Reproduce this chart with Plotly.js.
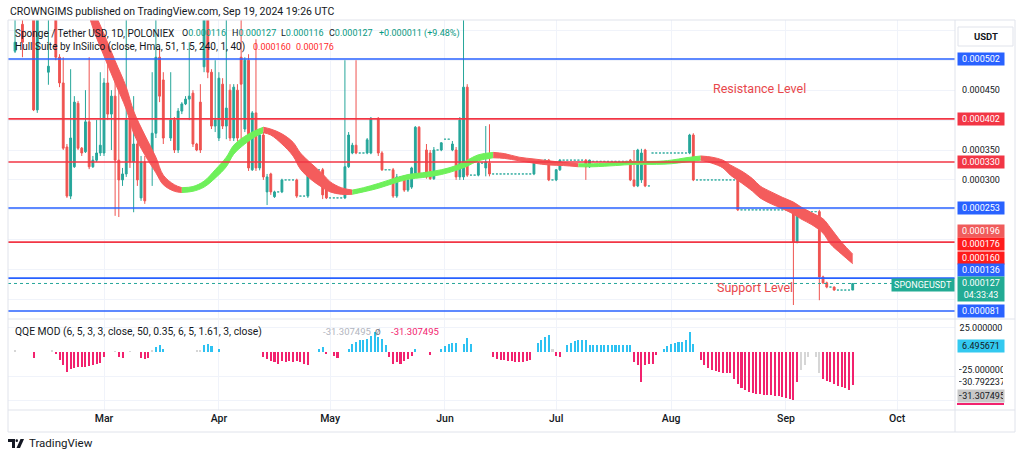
<!DOCTYPE html>
<html><head><meta charset="utf-8">
<script src="https://cdn.plot.ly/plotly-3.0.1.min.js"></script>
<style>html,body{margin:0;padding:0;background:#fff;}#chart{width:1024px;height:458px;}</style>
</head><body><div id="chart"></div>
<script>
// ---- DATA (prices in millionths of USDT) ----
const SCALE = 1e-6;
const candleDates = ['2024-02-06','2024-02-08','2024-02-11','2024-02-12','2024-02-15','2024-02-17','2024-02-18','2024-02-19','2024-02-20','2024-02-21','2024-02-22','2024-02-23','2024-02-24','2024-02-25','2024-02-26','2024-02-27','2024-02-28','2024-02-29','2024-03-01','2024-03-02','2024-03-03','2024-03-04','2024-03-05','2024-03-06','2024-03-07','2024-03-08','2024-03-09','2024-03-10','2024-03-11','2024-03-12','2024-03-14','2024-03-15','2024-03-16','2024-03-17','2024-03-19','2024-03-20','2024-03-21','2024-03-22','2024-03-23','2024-03-24','2024-03-25','2024-03-26','2024-03-27','2024-03-28','2024-03-29','2024-03-30','2024-03-31','2024-04-01','2024-04-02','2024-04-03','2024-04-04','2024-04-05','2024-04-06','2024-04-07','2024-04-08','2024-04-09','2024-04-10','2024-04-11','2024-04-12','2024-04-13','2024-04-14','2024-04-15','2024-04-16','2024-04-18','2024-04-22','2024-04-25','2024-04-29','2024-04-30','2024-05-05','2024-05-06','2024-05-07','2024-05-08','2024-05-11','2024-05-12','2024-05-14','2024-05-15','2024-05-18','2024-05-19','2024-05-21','2024-05-22','2024-05-23','2024-05-24','2024-05-25','2024-05-27','2024-05-28','2024-05-29','2024-05-31','2024-06-03','2024-06-04','2024-06-05','2024-06-06','2024-06-07','2024-06-10','2024-06-12','2024-06-13','2024-06-25','2024-06-28','2024-06-29','2024-07-01','2024-07-02','2024-07-09','2024-07-10','2024-07-21','2024-07-22','2024-07-23','2024-07-24','2024-07-25','2024-08-06','2024-08-07','2024-08-19','2024-09-03','2024-09-04','2024-09-10','2024-09-11','2024-09-12','2024-09-14','2024-09-19'];
const candleOpen  = [515,560,620,417,480,600,505,462,355,273,322,428,353,347,397,322,333,345,345,462,410,440,333,300,310,400,330,360,270,330,328,378,505,467,370,400,350,415,427,435,445,360,430,489,600,480,390,370,460,390,450,370,450,505,385,500,317,412,320,375,280,310,272,280,300,273,317,285,270,322,345,358,345,345,403,345,317,273,305,283,288,308,388,350,345,302,350,350,350,305,305,455,308,320,328,310,330,333,300,317,333,322,333,300,290,300,350,345,375,300,250,196,247,138,128,121,116];
const candleHigh  = [620,620,640,650,600,630,510,505,360,485,440,432,355,450,505,340,400,480,470,500,450,470,470,320,570,420,440,380,340,340,480,620,520,480,480,405,420,430,440,530,450,362,460,640,640,485,500,480,470,620,460,460,460,620,505,510,415,535,380,380,310,312,282,302,302,320,320,290,500,380,362,500,370,405,405,348,320,310,308,302,322,390,390,360,350,355,363,365,355,405,650,460,330,390,393,330,335,335,318,335,335,334,335,350,352,352,352,377,378,302,252,250,250,140,130,122,127];
const candleLow   = [512,505,415,412,459,500,455,350,270,268,320,350,340,345,318,320,330,340,340,400,350,240,238,290,305,320,246,290,265,260,290,370,430,360,365,345,345,410,425,400,355,348,345,480,470,385,380,365,385,368,365,365,365,368,380,315,315,315,316,300,258,275,270,278,270,270,268,268,268,320,343,343,343,343,340,315,270,270,280,280,285,305,305,302,300,300,348,348,300,300,300,305,306,306,306,308,328,298,298,315,300,320,298,288,288,295,288,343,298,248,91,194,99,126,119,115,116];
const candleClose = [530,530,417,620,490,505,462,353,273,370,430,353,345,397,322,333,345,358,462,410,440,333,300,310,400,330,360,300,330,265,378,505,440,370,400,350,415,427,435,440,360,350,350,600,480,390,400,470,390,420,370,455,370,460,500,320,412,320,375,305,305,280,280,300,273,317,275,270,322,375,358,345,367,403,345,317,273,305,283,300,320,388,308,305,302,350,362,360,305,400,455,308,328,330,310,328,333,300,317,333,322,333,300,290,350,345,290,375,300,250,196,247,138,128,121,116,127];
// flat (no-range) sessions
const flatDates = ['2024-04-17','2024-04-19','2024-04-20','2024-04-21','2024-04-23','2024-04-24','2024-04-26','2024-04-27','2024-04-28','2024-05-01','2024-05-02','2024-05-03','2024-05-04','2024-05-09','2024-05-10','2024-05-16','2024-05-17','2024-05-20','2024-05-26','2024-05-30','2024-06-01','2024-06-02','2024-06-08','2024-06-09','2024-06-11','2024-06-14','2024-06-15','2024-06-16','2024-06-17','2024-06-18','2024-06-19','2024-06-20','2024-06-21','2024-06-22','2024-06-23','2024-06-24','2024-06-26','2024-06-27','2024-06-30','2024-07-03','2024-07-04','2024-07-05','2024-07-06','2024-07-07','2024-07-08','2024-07-11','2024-07-12','2024-07-13','2024-07-14','2024-07-15','2024-07-16','2024-07-17','2024-07-18','2024-07-19','2024-07-20','2024-07-26','2024-07-27','2024-07-28','2024-07-29','2024-07-30','2024-07-31','2024-08-01','2024-08-02','2024-08-03','2024-08-04','2024-08-05','2024-08-08','2024-08-09','2024-08-10','2024-08-11','2024-08-12','2024-08-13','2024-08-14','2024-08-15','2024-08-16','2024-08-17','2024-08-18','2024-08-20','2024-08-21','2024-08-22','2024-08-23','2024-08-24','2024-08-25','2024-08-26','2024-08-27','2024-08-28','2024-08-29','2024-08-30','2024-08-31','2024-09-01','2024-09-02','2024-09-05','2024-09-06','2024-09-07','2024-09-08','2024-09-09','2024-09-13','2024-09-15','2024-09-16','2024-09-17','2024-09-18'];
const flatPrice = [280,300,300,300,273,273,317,317,317,270,270,270,270,345,345,317,317,305,308,350,368,368,308,308,328,310,310,310,310,310,310,310,310,310,310,310,328,328,300,333,333,333,333,333,333,331,331,331,331,331,331,331,331,331,331,290,345,345,345,345,345,345,345,345,345,345,300,300,300,300,300,300,300,300,300,300,300,250,250,250,250,250,250,250,250,250,250,250,250,250,250,247,247,247,247,247,121,116,116,116,116];
// Hull Suite band (upper / lower edge) and trend
const hullDates = ['2024-02-25','2024-02-27','2024-03-01','2024-03-04','2024-03-07','2024-03-09','2024-03-12','2024-03-15','2024-03-17','2024-03-20','2024-03-22','2024-03-25','2024-03-28','2024-03-31','2024-04-03','2024-04-05','2024-04-08','2024-04-11','2024-04-13','2024-04-15','2024-04-18','2024-04-21','2024-04-23','2024-04-26','2024-04-29','2024-05-01','2024-05-04','2024-05-07','2024-05-10','2024-05-14','2024-05-18','2024-05-22','2024-05-26','2024-05-31','2024-06-04','2024-06-07','2024-06-10','2024-06-14','2024-06-17','2024-06-21','2024-06-25','2024-06-29','2024-07-03','2024-07-07','2024-07-11','2024-07-17','2024-07-22','2024-07-28','2024-08-01','2024-08-05','2024-08-09','2024-08-12','2024-08-15','2024-08-17','2024-08-20','2024-08-23','2024-08-25','2024-08-28','2024-08-31','2024-09-03','2024-09-05','2024-09-08','2024-09-11','2024-09-13','2024-09-16','2024-09-19'];
const hullUpper = [622,587,544,499,455,415,375,338,308,292,287,289,298,317,338,358,373,383,388,385,377,363,345,327,310,297,287,283,287,294,302,309,312,317,324,333,342,346,344,338,335,332,329,327,327,329,331,331,333,337,340,338,333,325,315,302,290,280,271,263,255,245,235,220,196,176];
const hullLower = [596,554,507,462,418,378,342,312,292,281,279,281,288,303,322,343,360,373,379,375,360,340,318,300,287,280,276,276,280,286,294,301,304,309,316,323,332,337,336,332,328,325,324,322,322,324,326,326,327,330,333,328,320,308,295,281,270,260,252,243,235,225,211,193,176,160];
const hullTrend = ['dn','dn','dn','dn','dn','dn','dn','dn','dn','dn','up','up','up','up','up','up','up','up','dn','dn','dn','dn','dn','dn','dn','dn','dn','up','up','up','up','up','up','up','up','up','up','dn','dn','dn','dn','dn','dn','up','up','up','up','up','up','up','dn','dn','dn','dn','dn','dn','dn','dn','dn','dn','dn','dn','dn','dn','dn','dn'];
// horizontal levels
const blueLevels = [502,253,136,81];
const redLevels = [402,330,196];
const lastPrice = 127;
// QQE MOD histogram
const qqeDates = ['2024-02-06','2024-02-11','2024-02-16','2024-02-17','2024-02-18','2024-02-19','2024-02-20','2024-02-21','2024-02-22','2024-02-23','2024-02-24','2024-02-25','2024-02-26','2024-02-27','2024-02-28','2024-02-29','2024-03-01','2024-03-04','2024-03-05','2024-03-06','2024-03-08','2024-03-11','2024-03-12','2024-03-13','2024-03-14','2024-03-15','2024-03-16','2024-03-17','2024-03-26','2024-03-27','2024-03-28','2024-03-29','2024-03-30','2024-04-01',
'2024-04-13','2024-04-14','2024-04-15','2024-04-16','2024-04-17','2024-04-18','2024-04-19','2024-04-20','2024-04-21','2024-04-22','2024-04-23','2024-04-24','2024-04-25','2024-04-28','2024-04-29','2024-04-30','2024-05-02','2024-05-03',
'2024-05-06','2024-05-07','2024-05-08','2024-05-09','2024-05-10','2024-05-11','2024-05-12','2024-05-13','2024-05-14','2024-05-15','2024-05-16','2024-05-17','2024-05-18','2024-05-19','2024-05-20','2024-05-21','2024-05-22','2024-05-23','2024-05-24','2024-05-28',
'2024-05-31','2024-06-01','2024-06-02','2024-06-03','2024-06-04','2024-06-06','2024-06-07','2024-06-08',
'2024-06-14','2024-06-15','2024-06-16','2024-06-17','2024-06-18','2024-06-19','2024-06-20','2024-06-21','2024-06-22','2024-06-23','2024-06-24','2024-06-26','2024-06-27','2024-06-28','2024-06-29','2024-06-30','2024-07-01','2024-07-02',
'2024-07-04','2024-07-05','2024-07-06','2024-07-07','2024-07-08','2024-07-09','2024-07-10','2024-07-11','2024-07-12','2024-07-13','2024-07-14','2024-07-15','2024-07-16','2024-07-17','2024-07-18','2024-07-19','2024-07-20','2024-07-21',
'2024-07-22','2024-07-23','2024-07-24','2024-07-25','2024-07-26','2024-07-27','2024-07-28','2024-07-30','2024-07-31','2024-08-01','2024-08-02','2024-08-03','2024-08-04','2024-08-05','2024-08-06','2024-08-07',
'2024-08-09','2024-08-10','2024-08-11','2024-08-12','2024-08-13','2024-08-14','2024-08-15','2024-08-16','2024-08-17','2024-08-18','2024-08-19','2024-08-20','2024-08-21','2024-08-22','2024-08-23','2024-08-24','2024-08-25','2024-08-26','2024-08-27','2024-08-28','2024-08-29','2024-08-30','2024-08-31','2024-09-01','2024-09-02','2024-09-03','2024-09-04',
'2024-09-05','2024-09-06','2024-09-07','2024-09-09','2024-09-10','2024-09-11','2024-09-12','2024-09-13','2024-09-14','2024-09-15','2024-09-16','2024-09-17','2024-09-18','2024-09-19'];
const qqeValues = [2,-6,2,-2,-8.7,-14,-21,-18,-17,-16,-15.6,-15.6,-15,-14,-12,-11.5,-5,1.5,-5,-6,1.5,-6,-7,-6,2,5,7,3,2,2,7,8,6,3,
-5,-7,-9,-10,-12,-9,-10,-9,-10,-9,-10,-12,-14,3,5,-2,-4,-6,
3,8,10,12,13,14,17,21,16,14,7,-5,-12,-10,-12,-9,-7,-4,3,-3,
3,6,8,9,9,8,15,8,
-5,-7,-8,-8,-9,-9,-10,-10,-10,-9,-8,9,13,16,18,3,-4,-5,
7,9.4,11.5,12.8,13,12.8,7,7,7,7,7,7,7,7,7,7,7,7,
-10.4,-14,-31,-14,-13,-13,-3.5,3,6,8,9,10,10,13,21,8,
-8.7,-13.9,-16.3,-19.1,-20.1,-20.8,-21.5,-21.9,-22.2,-27.8,-33,-37.2,-39.9,-41.7,-42.7,-43.4,-44.1,-44.4,-44.8,-45.1,-45.5,-46.2,-46.9,-47.6,-48.6,-50.3,-31.3,
-19,-14,-5,-5,-22,-28,-30,-31,-33,-35,-36,-38,-40,-34];
const qqeState = ['nt','dn','nt','dn','dn','dn','dn','dn','dn','dn','dn','dn','dn','dn','dn','dn','dn','nt','dn','dn','nt','dn','dn','dn','nt','up','up','up','nt','nt','up','up','up','up',
'dn','dn','dn','dn','dn','dn','dn','dn','dn','dn','dn','dn','dn','up','up','dn','dn','dn',
'up','up','up','up','up','up','up','up','up','up','up','dn','dn','dn','dn','dn','dn','dn','up','dn',
'up','up','up','up','up','up','up','up',
'dn','dn','dn','dn','dn','dn','dn','dn','dn','dn','dn','up','up','up','up','nt','dn','dn',
'up','up','up','up','up','up','up','up','up','up','up','up','up','up','up','up','up','up',
'dn','dn','dn','dn','dn','dn','dn','up','up','up','up','up','up','up','up','up',
'dn','dn','dn','dn','dn','dn','dn','dn','dn','dn','dn','dn','dn','dn','dn','dn','dn','dn','dn','dn','dn','dn','dn','dn','dn','dn','dn',
'nt','nt','nt','nt','nt','dn','dn','dn','dn','dn','dn','dn','dn','dn'];
const monthTicks = ['2024-03-01','2024-04-01','2024-05-01','2024-06-01','2024-07-01','2024-08-01','2024-09-01','2024-10-01'];
const monthLabels = ['Mar','Apr','May','Jun','Jul','Aug','Sep','Oct'];

// ---- STYLE ----
const UP = '#26a69a', DN = '#ef5350', BLUE = '#2962ff', LRED = '#f23645';
const FONT = 'Roboto, "Open Sans", Arial, sans-serif';
const PX = p => (p - 8) / 947;      // pixel -> paper x
const PY = p => (410 - p) / 390;    // pixel -> paper y
const S = v => v * SCALE;

const traces = [];
traces.push({type:'candlestick', x:candleDates, open:candleOpen.map(S), high:candleHigh.map(S), low:candleLow.map(S), close:candleClose.map(S),
  increasing:{line:{color:UP,width:1},fillcolor:UP}, decreasing:{line:{color:DN,width:1},fillcolor:DN},
  whiskerwidth:0, hoverinfo:'skip', xaxis:'x', yaxis:'y', showlegend:false});
traces.push({type:'candlestick', x:flatDates, open:flatPrice.map(S), high:flatPrice.map(S), low:flatPrice.map(S), close:flatPrice.map(S),
  increasing:{line:{color:'#4fb8ad',width:1},fillcolor:'#4fb8ad'}, decreasing:{line:{color:'#4fb8ad',width:1},fillcolor:'#4fb8ad'},
  whiskerwidth:0, hoverinfo:'skip', xaxis:'x', yaxis:'y', showlegend:false});

// hull band segments
const segs = []; let st = 0;
for (let i = 1; i < hullDates.length; i++) {
  if (hullTrend[i] !== hullTrend[st]) { segs.push([st, i, hullTrend[st]]); st = i; }
}
if (st < hullDates.length - 1) segs.push([st, hullDates.length - 1, hullTrend[st]]);
segs.forEach(([a, b, t]) => {
  const col = t === 'up' ? '#6ef05a' : '#f45c5c';
  const xs = hullDates.slice(a, b + 1);
  traces.push({type:'scatter', mode:'lines', x:xs, y:hullLower.slice(a, b + 1).map(S), line:{color:col,width:1,shape:'spline'}, hoverinfo:'skip', showlegend:false, xaxis:'x', yaxis:'y'});
  traces.push({type:'scatter', mode:'lines', x:xs, y:hullUpper.slice(a, b + 1).map(S), line:{color:col,width:1,shape:'spline'}, fill:'tonexty', fillcolor:col, hoverinfo:'skip', showlegend:false, xaxis:'x', yaxis:'y'});
});

// QQE histogram
const qcol = {up:'#2ec2f2', dn:'#f2226e', nt:'#d6d6d6'};
traces.push({type:'bar', x:qqeDates, y:qqeValues, marker:{color:qqeState.map(s => qcol[s]), line:{width:0}}, width:0.55*86400000, hoverinfo:'skip', showlegend:false, xaxis:'x', yaxis:'y2'});

// ---- shapes ----
const shapes = [];
blueLevels.forEach(v => shapes.push({type:'line', xref:'paper', x0:0, x1:1, yref:'y', y0:S(v), y1:S(v), line:{color:BLUE, width:1.6}}));
redLevels.forEach(v => shapes.push({type:'line', xref:'paper', x0:0, x1:1, yref:'y', y0:S(v), y1:S(v), line:{color:LRED, width:1.6}}));
shapes.push({type:'line', xref:'paper', x0:0, x1:1, yref:'y', y0:S(lastPrice), y1:S(lastPrice), line:{color:UP, width:1, dash:'dot'}});
// frame
shapes.push({type:'rect', xref:'paper', yref:'paper', x0:PX(8), x1:PX(1015), y0:PY(432), y1:PY(20), line:{color:'#e0e3eb', width:1}});
shapes.push({type:'line', xref:'paper', yref:'paper', x0:1, x1:1, y0:PY(432), y1:PY(20), line:{color:'#e0e3eb', width:1}});
shapes.push({type:'line', xref:'paper', yref:'paper', x0:0, x1:PX(1015), y0:0, y1:0, line:{color:'#e0e3eb', width:1}});
shapes.push({type:'line', xref:'paper', yref:'paper', x0:0, x1:PX(1015), y0:PY(319), y1:PY(319), line:{color:'#e0e3eb', width:1}});
// USDT box
shapes.push({type:'rect', xref:'paper', yref:'paper', x0:PX(958), x1:PX(1013), y0:PY(46), y1:PY(27), line:{color:'#e0e3eb', width:1}, fillcolor:'#ffffff'});
// pink marker under grey label
shapes.push({type:'line', xref:'paper', yref:'paper', x0:PX(957), x1:PX(1004), y0:PY(404), y1:PY(404), line:{color:'#f2226e', width:2}});
// TradingView logo
shapes.push({type:'path', xref:'paper', yref:'paper', path:`M ${PX(8)} ${PY(439)} L ${PX(15)} ${PY(439)} L ${PX(15)} ${PY(448)} L ${PX(12)} ${PY(448)} L ${PX(12)} ${PY(442)} L ${PX(8)} ${PY(442)} Z`, fillcolor:'#131722', line:{width:0}});
shapes.push({type:'circle', xref:'paper', yref:'paper', x0:PX(15.5), x1:PX(18), y0:PY(442), y1:PY(439.3), fillcolor:'#131722', line:{width:0}});
shapes.push({type:'path', xref:'paper', yref:'paper', path:`M ${PX(20.5)} ${PY(439)} L ${PX(24)} ${PY(439)} L ${PX(20)} ${PY(448)} L ${PX(16.5)} ${PY(448)} Z`, fillcolor:'#131722', line:{width:0}});

// ---- annotations ----
const ann = [];
const txt = (x, y, text, size, color, anchor, extra) => ann.push(Object.assign({xref:'paper', yref:'paper', x:PX(x), y:PY(y), text, showarrow:false, xanchor:anchor||'left', yanchor:'middle', font:{family:FONT, size, color}}, extra||{}));
const g = s => `<span style="color:#089981">${s}</span>`;
txt(8, 11, 'CROWNGIMS published on TradingView.com, Sep 19, 2024 19:26 UTC', 10.5, '#131722');
txt(13, 33, 'Sponge / Tether USD, 1D, POLONIEX', 10, '#131722');
txt(180, 33, 'O' + g('0.000116'), 9, '#131722');
txt(230, 33, 'H' + g('0.000127'), 9, '#131722');
txt(279, 33, 'L' + g('0.000116'), 9, '#131722');
txt(327, 33, 'C' + g('0.000127'), 9, '#131722');
txt(377, 33, g('+0.000011 (+9.48%)'), 9, '#131722');
txt(13, 47, 'Hull Suite by InSilico (close, Hma, 51, 1.5, 240, 1, 40)', 10, '#131722');
txt(251, 47, '0.000160', 9, '#ff2b2b');
txt(294, 47, '0.000176', 9, '#ff2b2b');
txt(13, 331, 'QQE MOD (6, 5, 3, 3, close, 50, 0.35, 6, 5, 1.61, 3, close)', 10.3, '#131722');
txt(321, 331, '-31.307495', 9.5, '#b2b5be');
txt(378, 331, 'ø', 10, '#787b86', 'center');
txt(389, 331, '-31.307495', 9.5, '#f2226e');
txt(759, 88, 'Resistance Level', 12.5, '#e8474b', 'center');
txt(755, 287, 'Support Level', 12.5, '#e8474b', 'center');
txt(27, 443, 'TradingView', 11.5, '#131722');
txt(985.5, 36.5, '<b>USDT</b>', 9.5, '#131722', 'center');
txt(923, 284.5, 'SPONGEUSDT', 9, '#ffffff', 'center', {bgcolor:'#22ab94', width:60, borderpad:1});

const lab = (yref, v, text, bg, fg, yshift, pad) => ann.push({xref:'paper', x:1, xanchor:'left', xshift:2, yref, y:v, yanchor:'middle', yshift:yshift||0,
  text, showarrow:false, bgcolor:bg||'rgba(0,0,0,0)', width:44, align:'center', borderpad:pad||1, font:{family:FONT, size:9, color:fg||'#131722'}});
lab('y', S(502), '0.000502', BLUE, '#fff');
lab('y', S(450), '0.000450');
lab('y', S(402), '0.000402', LRED, '#fff');
lab('y', S(350), '0.000350');
lab('y', S(330), '0.000330', LRED, '#fff');
lab('y', S(300), '0.000300');
lab('y', S(253), '0.000253', BLUE, '#fff');
lab('y', S(196), '0.000196', '#f05c5c', '#fff', 11);
lab('y', S(176), '0.000176', '#ff1c1c', '#fff', 10);
lab('y', S(160), '0.000160', '#ff1c1c', '#fff', 6);
lab('y', S(136), '0.000136', BLUE, '#fff', 8);
ann.push({xref:'paper', x:1, xanchor:'left', xshift:2, yref:'y', y:S(127), yanchor:'top', yshift:7, text:'0.000127<br>04:33:43', showarrow:false, bgcolor:'#22ab94', width:44, align:'center', borderpad:1, font:{family:FONT, size:9, color:'#fff'}});
lab('y', S(81), '0.000081', BLUE, '#fff');
lab('y2', 25, '25.000000');
lab('y2', 6.495671, '6.495671', '#33c9f0', '#131722');
lab('y2', -25, '−25.000000', null, '#131722', 6);
lab('y2', -30.792237, '−30.792237', '#ffffff', '#131722', 0, 1);
lab('y2', -31.307495, '−31.307495', '#c8c8c8', '#131722', -14);

const layout = {
  width:1024, height:458, margin:{l:8, r:69, t:20, b:48},
  paper_bgcolor:'#ffffff', plot_bgcolor:'#ffffff', showlegend:false, bargap:0,
  xaxis:{type:'date', anchor:'y2', range:['2024-02-04 02:24','2024-10-16 14:24'], rangeslider:{visible:false},
    tickvals:monthTicks, ticktext:monthLabels, showgrid:true, gridcolor:'#f0f3fa', gridwidth:1, zeroline:false, showline:false, ticks:'',
    tickfont:{family:FONT, size:10.5, color:'#131722', weight:500}, fixedrange:true},
  yaxis:{domain:[(410-318)/390, 1], range:[S(69.3), S(567.2)], side:'right', showticklabels:false, tickvals:[100,150,200,250,300,350,400,450,500,550].map(S),
    showgrid:true, gridcolor:'#f0f3fa', zeroline:false, showline:false, ticks:'', fixedrange:true},
  yaxis2:{domain:[0, (410-320)/390], range:[-60.4, 33.3], side:'right', showticklabels:false, tickvals:[25,-25,-50],
    showgrid:true, gridcolor:'#f0f3fa', zeroline:false, showline:false, ticks:'', fixedrange:true},
  shapes, annotations:ann
};
Plotly.newPlot('chart', traces, layout, {staticPlot:true, displayModeBar:false});
</script></body></html>
